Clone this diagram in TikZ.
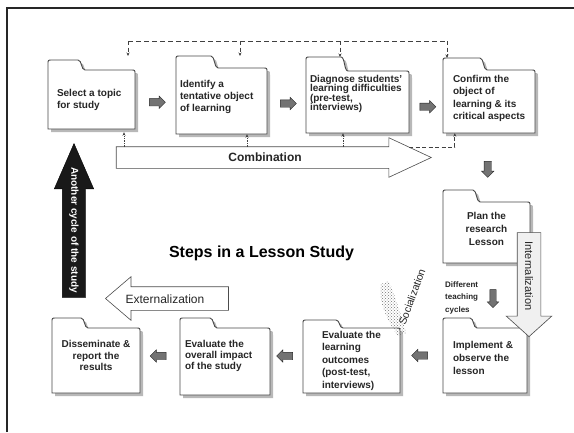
\documentclass[tikz,border=0pt]{standalone}
\usepackage{fontspec}
\setmainfont{Liberation Sans}
\usetikzlibrary{shapes.arrows,patterns,calc,arrows.meta}
\tikzset{
  fshadow/.style={fill=black!28},
  fline/.style={draw=black!72, line width=0.9pt, fill=white},
  fbody/.style={rectangle, inner sep=0pt, draw=none},
  ftext/.style={font=\bfseries\fontsize{10}{12}\selectfont, inner sep=0pt, text=black!85, align=left},
  sarrow/.style={single arrow, draw=black!85, fill=black!55, line width=0.4pt, minimum height=16pt, inner sep=3.5pt, single arrow head extend=2.5pt},
  bigarrow/.style={single arrow, draw=black!70, fill=white, line width=0.6pt},
  fb/.style={draw=black!75, dash pattern=on 5pt off 3pt, line width=0.6pt},
  fbarrow/.style={draw=black!75, dash pattern=on 4pt off 2.5pt, line width=0.6pt, -{Stealth[length=3.5pt,width=3pt]}},
  cbarrow/.style={draw=black!75, densely dotted, line width=0.7pt, -{Stealth[length=3.5pt,width=3pt]}},
}
\newcommand\folder[9]{%
  \fill[fshadow,shift={(3,3)}] (#2,#7) -- (#2,#3+4) .. controls (#2,#3) .. (#2+4,#3) -- (#5-7,#3) .. controls (#5-3,#3) and (#5-4,#4) .. (#5,#4) -- (#6-4,#4) .. controls (#6,#4) .. (#6,#4+4) -- (#6,#7) -- cycle;
  \draw[fline] (#2,#7) -- (#2,#3+4) .. controls (#2,#3) .. (#2+4,#3) -- (#5-7,#3) .. controls (#5-3,#3) and (#5-4,#4) .. (#5,#4) -- (#6-4,#4) .. controls (#6,#4) .. (#6,#4+4) -- (#6,#7) -- cycle;
  \node[fbody, minimum width={(#6-#2)*1pt}, minimum height={(#7-#4)*1pt}] (#1) at ($(#2,#4)!0.5!(#6,#7)$) {};
  \coordinate (#1tab) at (#2+4,#3);
  \node[ftext, at={(#1.center)}, #8] (#1t) {#9};
}
\begin{document}
\begin{tikzpicture}[x=1pt,y=-1pt]
\useasboundingbox (0,0) rectangle (574,432);
\fill[white] (0,0) rectangle (574,432);
% frame
\draw[line width=2pt, black!85] (7,432) -- (7,8) -- (574,8);

% folders
\folder{f1}{48}{60}{70}{85}{135}{129}{at={(f1.west)},anchor=west,xshift=9pt}{Select a topic\\for study}
\folder{f2}{176}{56}{68}{218}{267}{134}{at={(f2.west)},anchor=west,xshift=4pt,yshift=4pt}{Identify a\\tentative object\\of learning}
\folder{f3}{306}{57}{71}{348}{409}{133}{at={(f3.west)},anchor=west,xshift=4pt,yshift=8pt,font=\bfseries\fontsize{10}{9.5}\selectfont}{Diagnose students'\\learning difficulties\\(pre-test,\\interviews)}
\folder{f4}{443}{58}{70}{487}{535}{133}{at={(f4.west)},anchor=west,xshift=10pt,yshift=3pt,font=\bfseries\fontsize{10}{12.5}\selectfont}{Confirm the\\object of\\learning \& its\\critical aspects}
\folder{f5}{443}{190}{202}{480}{530}{263}{align=center,yshift=4pt,font=\bfseries\fontsize{10}{13}\selectfont}{Plan the\\research\\Lesson}
\folder{f6}{443}{318}{328}{477}{527}{393}{at={(f6.west)},anchor=west,xshift=10pt,yshift=3pt,font=\bfseries\fontsize{10}{13}\selectfont}{Implement \&\\observe the\\lesson}
\folder{f7}{303}{320}{328}{343}{400}{393}{at={(f7.west)},anchor=west,xshift=19pt,font=\bfseries\fontsize{10}{12.5}\selectfont}{Evaluate the\\learning\\outcomes\\(post-test,\\interviews)}
\folder{f8}{180}{318}{328}{217}{270}{395}{at={(f8.west)},anchor=west,xshift=5pt,yshift=6pt,font=\bfseries\fontsize{10}{11}\selectfont}{Evaluate the\\overall impact\\of the study}
\folder{f9}{52}{318}{328}{88}{140}{393}{align=center,yshift=5pt,font=\bfseries\fontsize{10}{11.5}\selectfont}{Disseminate \&\\report the\\results}

% small arrows between steps
\node[sarrow] (a12) at ($(f1.east)!0.5!(f2.west)$) [yshift=-2pt] {};
\node[sarrow] (a23) at ($(f2.east)!0.5!(f3.west)$) [yshift=-2pt] {};
\node[sarrow] (a34) at ($(f3.east)!0.5!(f4.west)$) [yshift=-5pt] {};
\node[sarrow, shape border rotate=270] (a45) at ($(f4.south)!0.5!(f5.north)$) {};
\node[sarrow, shape border rotate=180] (a67) at ($(f6.west)!0.5!(f7.east)$) [yshift=5pt] {};
\node[sarrow, shape border rotate=180] (a78) at ($(f7.west)!0.5!(f8.east)$) [yshift=5pt] {};
\node[sarrow, shape border rotate=180] (a89) at ($(f8.west)!0.5!(f9.east)$) [yshift=5pt] {};

% feedback dashed line on top
\coordinate (t1) at (128,41);
\coordinate (t2) at (240,41);
\coordinate (t3) at (340,41);
\coordinate (t4) at (447,41);
\draw[fb] (t1) -- (t4);
\draw[fbarrow] (t1) -- (t1 |- f2tab);
\draw[fbarrow] (t2) -- (t2 |- f2tab);
\draw[fbarrow] (t3) -- (t3 |- f3tab);
\draw[fbarrow] (t4) -- (t4 |- f4tab);

% Combination arrow
\node[bigarrow, minimum height=315pt, inner sep=10.5pt, single arrow head extend=9pt, single arrow tip angle=50, anchor=tip] (comb) at (432,157.5) {};
\node[font=\bfseries\fontsize{12}{14}\selectfont, text=black!85, inner sep=0pt] (combt) at (265,157.5) {Combination};
\coordinate (c1) at (124,147);
\coordinate (c2) at (247,147);
\coordinate (c3) at (343,147);
\coordinate (c4) at (409,147);
\draw[cbarrow] (c1) -- ([yshift=-3pt]c1 |- f1.south);
\draw[cbarrow] (c2) -- (c2 |- f2.south);
\draw[cbarrow] (c3) -- (c3 |- f3.south);
\draw[cbarrow, dash pattern=on 4pt off 2.5pt] (c4) -| ([xshift=12pt]f4.south west);

% Internalization arrow
\node[bigarrow, fill=black!6, minimum height=104pt, inner sep=11.5pt, single arrow head extend=11pt, single arrow tip angle=96, shape border rotate=270, anchor=tip] (inta) at (529,337) {};
\node[rotate=-90, font=\fontsize{11}{13}\selectfont, text=black!85, inner sep=0pt] (intt) at (529,276) {Internalization};

% Different teaching cycles
\node[anchor=west, align=left, font=\bfseries\fontsize{8}{12.5}\selectfont, text=black!85, inner sep=0pt] (diff) at (445,297.5) {Different\\teaching\\cycles};
\node[sarrow, shape border rotate=270, minimum height=18pt, inner sep=3pt] (diffa) at (493,297) {};

% Externalization arrow
\node[bigarrow, minimum height=123pt, inner sep=11.5pt, single arrow head extend=10pt, single arrow tip angle=81, shape border rotate=180, anchor=tip] (exta) at (105,298.5) {};
\node[font=\fontsize{12}{14}\selectfont, text=black!85, inner sep=0pt] (extt) at (165,299) {Externalization};

% Another cycle arrow
\node[single arrow, fill=black!90, draw=black, minimum height=154pt, inner sep=11.5pt, single arrow head extend=8pt, single arrow tip angle=47, shape border rotate=90, anchor=tip] (cyca) at (74,143) {};
\node[rotate=-90, font=\bfseries\fontsize{10}{12}\selectfont, text=white, inner sep=0pt] (cyct) at (74,230) {Another cycle of the study};

% Socialization
\fill[pattern=crosshatch dots, pattern color=black!55] (381,284) .. controls (377,300) and (388,322) .. (398,336) -- (406,333) .. controls (402,318) and (396,298) .. (389,281) -- cycle;
\node[rotate=70, font=\fontsize{10.5}{12}\selectfont, text=black!85, inner sep=0pt] (soc) at (412,297) {Socialization};

% Title
\node[font=\bfseries\fontsize{16}{18}\selectfont, inner sep=0pt] (title) at (261.5,253) {Steps in a Lesson Study};
\end{tikzpicture}
\end{document}
